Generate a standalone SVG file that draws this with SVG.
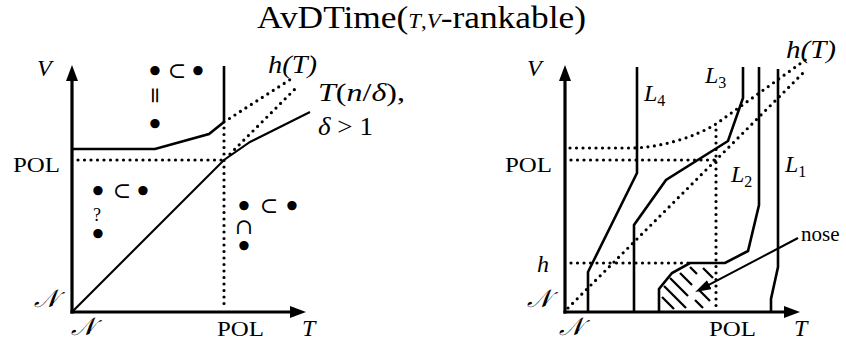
<svg xmlns="http://www.w3.org/2000/svg" width="846" height="340" viewBox="0 0 846 340">
<style>
.t{font-family:"Liberation Serif","DejaVu Serif",serif;font-size:22px;fill:#000}
.m{font-size:24px}
.w{font-size:26px}
.i{font-style:italic}
.cal{font-family:"DejaVu Serif","Noto Sans","Liberation Serif",serif;font-size:25px;font-style:italic}
.sym{font-family:"DejaVu Serif","Liberation Serif",serif;font-size:22px;text-anchor:middle}
.b{font-family:"DejaVu Serif","Liberation Serif",serif;font-size:32px;text-anchor:middle}
.q{font-family:"Liberation Serif",serif;font-size:18px;text-anchor:middle}
.sub{font-size:16px;font-style:normal}
.axis{stroke:#000;stroke-width:3.2;fill:none}
.solid{stroke:#000;stroke-width:2.6;fill:none;stroke-linejoin:miter}
.thin{stroke:#000;stroke-width:2.1;fill:none}
.dot{stroke:#000;stroke-width:3.2;fill:none;stroke-dasharray:0 6.5;stroke-linecap:round}
.hatch{stroke:#000;stroke-width:2.3;fill:none}
</style>
<defs>
<marker id="ax" viewBox="0 0 16 12" markerWidth="16" markerHeight="12" refX="6" refY="6" orient="auto" markerUnits="userSpaceOnUse">
<path d="M0,0 L16,6 L0,12 z" fill="#000"/>
</marker>
<marker id="ar" viewBox="0 0 16 10" markerWidth="16" markerHeight="10" refX="6" refY="5" orient="auto" markerUnits="userSpaceOnUse">
<path d="M0,0 L16,5 L0,10 z" fill="#000"/>
</marker>
</defs>

<g id="title">
<text class="t" x="257" y="28" style="font-size:31px" textLength="329" lengthAdjust="spacingAndGlyphs">AvDTime(<tspan class="i" style="font-size:20px">T</tspan><tspan style="font-size:20px">,</tspan><tspan class="i" style="font-size:20px">V</tspan>-rankable)</text>
</g>

<!-- LEFT DIAGRAM -->
<g id="left-axes">
<line class="axis" x1="72" y1="313.6" x2="72" y2="75" marker-end="url(#ax)"/>
<line class="axis" x1="70.4" y1="312" x2="296" y2="312" marker-end="url(#ax)"/>
<text class="t m i" x="37" y="76">V</text>
<text class="t m i" x="302" y="336">T</text>
<text class="t" x="13" y="172" textLength="47" lengthAdjust="spacingAndGlyphs">POL</text>
<text class="t" x="217" y="336" textLength="47" lengthAdjust="spacingAndGlyphs">POL</text>
<text class="cal" x="34" y="307">𝒩</text>
<text class="cal" x="71" y="335">𝒩</text>
</g>
<g id="left-connectors">
<line class="dot" x1="78" y1="160" x2="224" y2="160"/>
<line class="dot" x1="224" y1="128" x2="224" y2="310"/>
<line class="solid" x1="224" y1="66" x2="224" y2="122" stroke-width="3"/>
<polyline class="solid" points="73,149 155,149 209,134 224,122"/>
<polyline class="thin" points="72,312 224,160 250,142 310,112"/>
<line class="dot" x1="224" y1="122" x2="291" y2="79"/>
<line class="dot" x1="230" y1="154" x2="298" y2="86"/>
</g>
<g id="left-labels">
<text class="t w i" x="268" y="73" textLength="49" lengthAdjust="spacingAndGlyphs">h(T)</text>
<text class="t w" x="318" y="101" textLength="87" lengthAdjust="spacingAndGlyphs"><tspan class="i">T</tspan>(<tspan class="i">n</tspan>/<tspan class="i">δ</tspan>),</text>
<text class="t w" x="318" y="135" textLength="55" lengthAdjust="spacingAndGlyphs"><tspan class="i">δ</tspan> &gt; 1</text>
</g>
<g id="region-top">
<text class="sym"><tspan class="b" x="155" y="83">•</tspan><tspan class="sym" x="177" y="78">⊂</tspan><tspan class="b" x="198" y="83">•</tspan><tspan class="b" x="155" y="136">•</tspan></text>
<text class="sym" x="0" y="0" transform="translate(155,95.5) rotate(90) translate(0,7)">=</text>
</g>
<g id="region-lower-left">
<text class="sym"><tspan class="b" x="98" y="203">•</tspan><tspan class="sym" x="122" y="198">⊂</tspan><tspan class="b" x="143" y="203">•</tspan><tspan class="q" x="97" y="221">?</tspan><tspan class="b" x="98" y="246">•</tspan></text>
</g>
<g id="region-lower-right">
<text class="sym"><tspan class="b" x="244" y="218">•</tspan><tspan class="sym" x="269" y="213">⊂</tspan><tspan class="b" x="292" y="218">•</tspan><tspan class="sym" x="244" y="234">∩</tspan><tspan class="b" x="244" y="258">•</tspan></text>
</g>

<!-- RIGHT DIAGRAM -->
<g id="right-axes">
<line class="axis" x1="565" y1="313.6" x2="565" y2="75" marker-end="url(#ax)"/>
<line class="axis" x1="563.4" y1="312" x2="790" y2="312" marker-end="url(#ax)"/>
<text class="t m i" x="527" y="76">V</text>
<text class="t m i" x="794" y="336">T</text>
<text class="t" x="505" y="172" textLength="47" lengthAdjust="spacingAndGlyphs">POL</text>
<text class="t" x="709" y="336" textLength="47" lengthAdjust="spacingAndGlyphs">POL</text>
<text class="t m i" x="537" y="272">h</text>
<text class="cal" x="527" y="307">𝒩</text>
<text class="cal" x="559" y="335">𝒩</text>
</g>
<g id="right-connectors">
<path class="dot" d="M570,148 L630,148 C660,148 695,137 716,124 L808,58"/>
<line class="dot" x1="571" y1="160" x2="716" y2="160"/>
<line class="dot" x1="716" y1="130" x2="716" y2="310"/>
<line class="dot" x1="568" y1="308" x2="806" y2="70"/>
<line class="dot" x1="571" y1="263" x2="690" y2="263"/>
</g>
<g id="L4">
<polyline class="solid" points="637,67 637,173 588,272 588,312"/>
<text class="t m i" x="644" y="101">L<tspan class="sub" dy="5">4</tspan></text>
</g>
<g id="L3">
<polyline class="solid" points="743,67 743,98 728,141 666,180 634,225 634,312"/>
<text class="t m i" x="705" y="83">L<tspan class="sub" dy="5">3</tspan></text>
</g>
<g id="L2">
<polyline class="solid" points="759,67 759,205 748,251 725,263 690,263 672,273 659,289 659,312"/>
<text class="t m i" x="731" y="182">L<tspan class="sub" dy="5">2</tspan></text>
</g>
<g id="L1">
<polyline class="solid" points="778,69 778,267 771,299 771,312"/>
<text class="t m i" x="785" y="172">L<tspan class="sub" dy="5">1</tspan></text>
</g>
<g id="hT-right">
<text class="t w i" x="786" y="58" textLength="50" lengthAdjust="spacingAndGlyphs">h(T)</text>
</g>
<g id="nose">
<line class="hatch" x1="662" y1="297" x2="674" y2="309"/>
<line class="hatch" x1="664" y1="286" x2="686" y2="308"/>
<line class="hatch" x1="670" y1="278" x2="688" y2="296"/>
<line class="hatch" x1="695" y1="300" x2="703" y2="308"/>
<line class="hatch" x1="680" y1="273" x2="692" y2="285"/>
<line class="hatch" x1="699" y1="290" x2="710" y2="301"/>
<line class="hatch" x1="690" y1="267" x2="697" y2="274"/>
<line class="hatch" x1="703" y1="268" x2="713" y2="278"/>
<line class="thin" x1="798" y1="238" x2="704" y2="287.4" marker-end="url(#ar)"/>
<text class="t" x="801" y="241" style="font-size:21px">nose</text>
</g>
</svg>
